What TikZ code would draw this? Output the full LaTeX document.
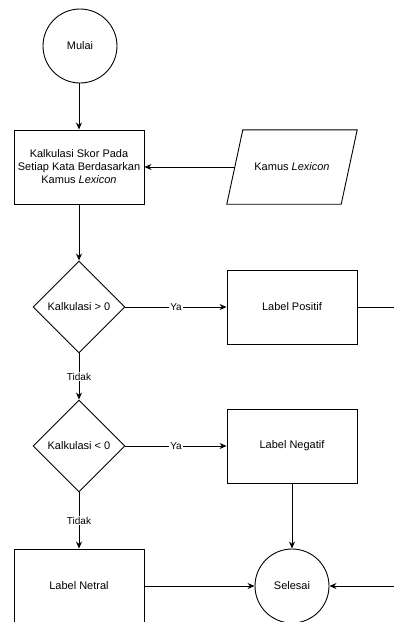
\documentclass[tikz,border=0pt]{standalone}
\usepackage{fontspec}
\setmainfont{Liberation Sans}
\usetikzlibrary{shapes.geometric,arrows.meta}
\begin{document}
\begin{tikzpicture}[x=1pt,y=-1pt,
  every node/.style={font=\fontsize{11}{13}\selectfont, align=center},
  proc/.style={draw, line width=0.9pt, minimum width=130pt, minimum height=74pt, inner sep=2pt},
  term/.style={draw, circle, line width=0.9pt, minimum size=74pt, inner sep=0pt},
  dec/.style={draw, diamond, aspect=1, line width=0.9pt, minimum width=92pt, minimum height=92pt, inner sep=0pt},
  iobody/.style={minimum width=114pt, minimum height=74pt, inner sep=2pt},
  edge/.style={line width=0.9pt},
  flow/.style={line width=0.9pt, -{Stealth[length=7pt,width=6pt]}},
  lbl/.style={fill=white, inner sep=1pt, font=\fontsize{10}{12}\selectfont}
]
\useasboundingbox (0,0) rectangle (394,622);
\node[term] (mulai) at (80,46) {Mulai};
\node[proc] (kalk) at (79,167) {Kalkulasi Skor Pada\\Setiap Kata Berdasarkan\\Kamus \textit{Lexicon}};
\node[iobody] (kamus) at (292,167) {Kamus \textit{Lexicon}};
\draw[edge, line join=miter] ([xshift=8pt]kamus.north west) -- ([xshift=8pt]kamus.north east)
  -- ([xshift=-8pt]kamus.south east) -- ([xshift=-8pt]kamus.south west) -- cycle;
\node[dec] (d1) at (79,307) {Kalkulasi > 0};
\node[proc] (pos) at (292,307) {Label Positif};
\node[dec] (d2) at (79,446) {Kalkulasi < 0};
\node[proc] (neg) at (292,446) {Label Negatif};
\node[proc] (net) at (79,586) {Label Netral};
\node[term] (selesai) at (292,586) {Selesai};
\coordinate (posout) at (394,307);
\coordinate (selin) at (394,586);

\draw[flow] (mulai.south -| kalk.north) -- (kalk.north);
\draw[flow] (kamus.west) -- (kalk.east);
\draw[flow] (kalk) -- (d1);
\draw[flow] (d1) -- node[lbl] {Ya} (pos);
\draw[edge] (pos.east) -- (posout);
\draw[flow] (d1) -- node[lbl] {Tidak} (d2);
\draw[flow] (d2) -- node[lbl] {Ya} (neg);
\draw[flow] (d2) -- node[lbl] {Tidak} (net);
\draw[flow] (neg) -- (selesai);
\draw[flow] (net) -- (selesai);
\draw[flow] (selin) -- (selesai.east);
\end{tikzpicture}
\end{document}
